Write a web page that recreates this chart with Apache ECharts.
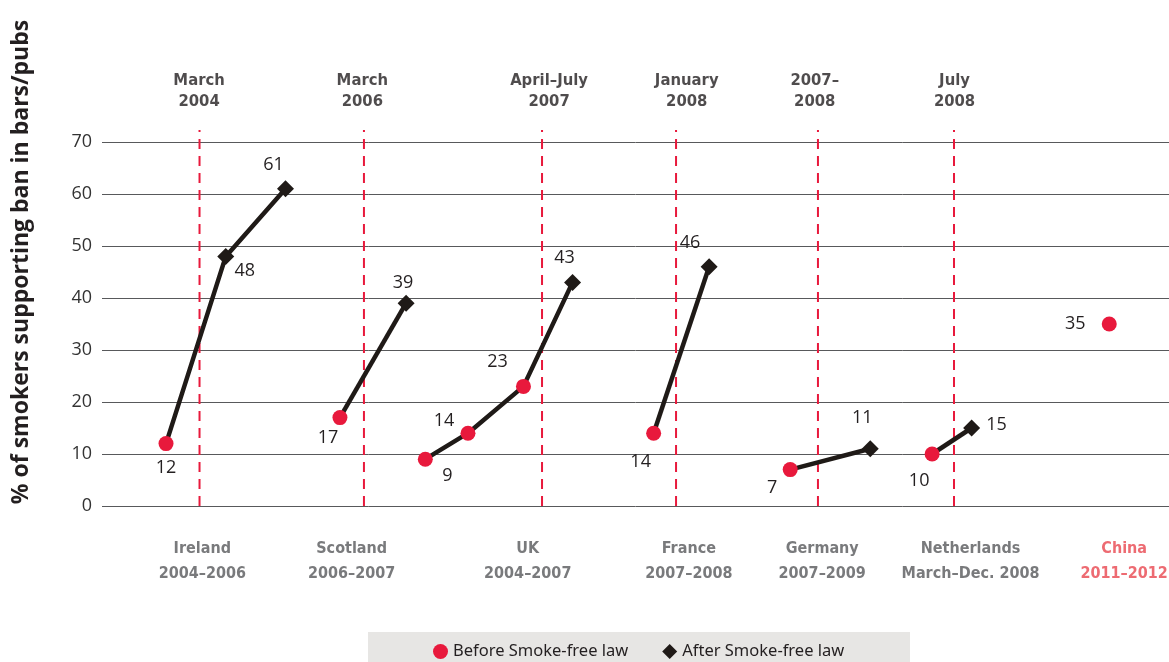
<!DOCTYPE html>
<html><head><meta charset="utf-8">
<script src="https://cdn.jsdelivr.net/npm/echarts@6/dist/echarts.min.js"></script>
<style>html,body{margin:0;padding:0;background:#fff}#c{width:1169px;height:662px}</style>
</head><body><div id="c"></div>
<script>
// ---------- data ----------
const yTicks = [0, 10, 20, 30, 40, 50, 60, 70];
const countries = ['Ireland', 'Scotland', 'UK', 'France', 'Germany', 'Netherlands', 'China'];
const periods = ['2004–2006', '2006–2007', '2004–2007', '2007–2008', '2007–2009', 'March–Dec. 2008', '2011–2012'];
const countryPos = [9.4, 23.4, 39.9, 55.0, 67.5, 81.4, 95.8];
const lawDates = ['March\n2004', 'March\n2006', 'April–July\n2007', 'January\n2008', '2007–\n2008', 'July\n2008'];
const lawPos = [9.14, 24.55, 41.24, 53.8, 67.1, 79.85];
const lawLabelPos = [9.1, 24.4, 41.9, 54.8, 66.8, 79.9];

const irelandPos = [6.0, 11.6, 17.2], irelandVal = [12, 48, 61], irelandPhase = ['before', 'after', 'after'];
const scotlandPos = [22.3, 28.5], scotlandVal = [17, 39], scotlandPhase = ['before', 'after'];
const ukPos = [30.3, 34.3, 39.5, 44.1], ukVal = [9, 14, 23, 43], ukPhase = ['before', 'before', 'before', 'after'];
const francePos = [51.7, 56.9], franceVal = [14, 46], francePhase = ['before', 'after'];
const germanyPos = [64.5, 72.0], germanyVal = [7, 11], germanyPhase = ['before', 'after'];
const netherlandsPos = [77.8, 81.5], netherlandsVal = [10, 15], netherlandsPhase = ['before', 'after'];
const chinaPos = [94.4], chinaVal = [35], chinaPhase = ['before'];

// ---------- layout / style ----------
const irelandLbl = [[0, 24], [19, 14], [-12, -24]];
const scotlandLbl = [[-12, 20], [-3, -20]];
const ukLbl = [[22, 17], [-24, -12], [-26, -25], [-8, -25]];
const franceLbl = [[-13, 29], [-19, -24]];
const germanyLbl = [[-18, 18], [-8, -31]];
const netherlandsLbl = [[-13, 27], [25, -3]];
const chinaLbl = [[-34, 0]];

const RED = '#e8193c';
const BLACK = '#1f1a17';
const BEFORE = 'Before Smoke-free law';
const AFTER = 'After Smoke-free law';
const NARROW = '"Liberation Sans Narrow", "DejaVu Sans Condensed", Roboto, sans-serif';
const lawLabelY = 79.8, countryLabelY = -10.6, dashTop = 72.3;

const groups = [
  [irelandPos, irelandVal, irelandPhase, irelandLbl],
  [scotlandPos, scotlandVal, scotlandPhase, scotlandLbl],
  [ukPos, ukVal, ukPhase, ukLbl],
  [francePos, franceVal, francePhase, franceLbl],
  [germanyPos, germanyVal, germanyPhase, germanyLbl],
  [netherlandsPos, netherlandsVal, netherlandsPhase, netherlandsLbl],
  [chinaPos, chinaVal, chinaPhase, chinaLbl]
];

const series = [];
lawPos.forEach(p => {
  series.push({
    type: 'line', silent: true, clip: false, symbol: 'none', z: 1,
    data: [[p, 0], [p, dashTop]],
    lineStyle: { color: RED, width: 2, type: [10, 7] }
  });
});
groups.forEach((g, gi) => {
  if (g[0].length < 2) return;
  series.push({
    type: 'line', name: countries[gi], symbol: 'none', z: 2, silent: true,
    data: g[0].map((x, i) => [x, g[1][i]]),
    lineStyle: { color: BLACK, width: 4.5 }
  });
});
const beforeData = [], afterData = [];
groups.forEach(g => {
  g[0].forEach((x, i) => {
    const item = { value: [x, g[1][i]], label: { offset: g[3][i] } };
    (g[2][i] === 'before' ? beforeData : afterData).push(item);
  });
});
const ptLabel = {
  show: true, position: 'inside', formatter: p => p.value[1],
  fontFamily: 'Open Sans', fontSize: 18, color: '#231f20'
};
series.push({
  type: 'scatter', name: BEFORE, symbol: 'circle', symbolSize: 15, z: 3,
  itemStyle: { color: RED, opacity: 1 }, data: beforeData, label: ptLabel
});
series.push({
  type: 'scatter', name: AFTER, symbol: 'diamond', symbolSize: 17, z: 3,
  itemStyle: { color: BLACK, opacity: 1 }, data: afterData, label: ptLabel
});
series.push({
  type: 'scatter', silent: true, clip: false, symbolSize: 1,
  itemStyle: { color: 'rgba(0,0,0,0)' },
  data: lawDates.map((d, i) => ({ name: d, value: [lawLabelPos[i], lawLabelY] })),
  label: {
    show: true, position: 'inside', formatter: p => p.name,
    fontFamily: NARROW, fontWeight: 'bold', fontSize: 16.5,
    lineHeight: 21, color: '#231f20', align: 'center'
  }
});
series.push({
  type: 'scatter', silent: true, clip: false, symbolSize: 1,
  itemStyle: { color: 'rgba(0,0,0,0)' },
  data: countries.map((c, i) => ({
    name: c + '\n' + periods[i], value: [countryPos[i], countryLabelY],
    label: c === 'China' ? { color: '#e8464f' } : undefined
  })),
  label: {
    show: true, position: 'inside', formatter: p => p.name,
    fontFamily: NARROW, fontWeight: 'bold', fontSize: 16,
    lineHeight: 25, color: '#58595b', align: 'center'
  }
});

const chart = echarts.init(document.getElementById('c'));
chart.setOption({
  animation: false,
  grid: { left: 102, right: 0, top: 142, bottom: 156, containLabel: false },
  xAxis: { type: 'value', min: 0, max: 100, show: false },
  yAxis: {
    type: 'value', min: yTicks[0], max: yTicks[yTicks.length - 1], interval: 10,
    axisLine: { show: false }, axisTick: { show: false },
    axisLabel: { fontFamily: 'Open Sans', fontSize: 18, color: '#333', margin: 10 },
    splitLine: { lineStyle: { color: '#58595b', width: 1 } }
  },
  legend: {
    left: 428, top: 638, itemGap: 34, itemWidth: 15, itemHeight: 15,
    data: [{ name: BEFORE, icon: 'circle' }, { name: AFTER, icon: 'diamond' }],
    textStyle: { fontFamily: 'Noto Sans', fontSize: 16.5, color: '#231f20' },
    selectedMode: false
  },
  graphic: [
    { type: 'rect', z: -10, shape: { x: 368, y: 632, width: 542, height: 30 }, style: { fill: '#e7e6e4' } },
    {
      type: 'text', x: 21, y: 262, rotation: Math.PI / 2,
      style: {
        text: '% of smokers supporting ban in bars/pubs',
        font: 'bold 23px "Open Sans"', fill: '#231f20',
        textAlign: 'center', textVerticalAlign: 'middle'
      }
    }
  ],
  series: series
});
</script></body></html>
